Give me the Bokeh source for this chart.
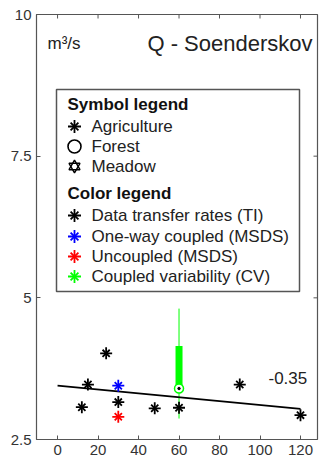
from bokeh.plotting import figure
from bokeh.models import LinearAxis, FixedTicker, Range1d
from bokeh.core.properties import value
from bokeh.embed import file_html
from bokeh.resources import INLINE

# ---- data -------------------------------------------------------------
# Data transfer rates (TI), agriculture
ti_x = [12, 15, 24, 30, 48, 60, 90, 120]
ti_y = [3.07, 3.47, 4.02, 3.16, 3.05, 3.06, 3.47, 2.93]
# One-way coupled (MSDS)
oneway_x = [30]
oneway_y = [3.45]
# Uncoupled (MSDS)
uncoupled_x = [30]
uncoupled_y = [2.90]
# Coupled variability (CV): whisker range, box range, centre value
cv_x = [60]
cv_low = [2.87]
cv_q1 = [3.40]
cv_q3 = [4.15]
cv_high = [4.81]
cv_mid = [3.40]
# Trend line through the TI values and its label
trend_x = [0, 120]
trend_y = [3.45, 3.04]
trend_label = "-0.35"

x_ticks = [0, 20, 40, 60, 80, 100, 120]
y_ticks = [2.5, 5, 7.5, 10]
y_tick_labels = {2.5: "2.5", 5: "5", 7.5: "7.5", 10: "10"}

title_text = "Q - Soenderskov"
unit_text = "m\u00b3/s"
symbol_head = "Symbol legend"
symbol_labels = ["Agriculture", "Forest", "Meadow"]
color_head = "Color legend"
color_labels = ["Data transfer rates (TI)", "One-way coupled (MSDS)",
                "Uncoupled (MSDS)", "Coupled variability (CV)"]
color_values = ["#000000", "#0000ff", "#ff0000", "#00ff00"]

# ---- layout -----------------------------------------------------------
W, H = 320, 464
FL, FR, FT, FB = 36, 317, 14, 439
X0, X1 = -10.4, 128.4
Y0, Y1 = 2.5, 10.0
TICK_PX = 4
FONT = "Liberation Sans"
FRAME_COLOR = "#555555"


def sx(px):
    return X0 + (px - FL) * (X1 - X0) / (FR - FL)


def sy(py):
    return Y1 - (py - FT) * (Y1 - Y0) / (FB - FT)


p = figure(width=W, height=H, output_backend="svg", toolbar_location=None,
           x_range=Range1d(X0, X1), y_range=Range1d(Y0, Y1),
           x_axis_location=None, y_axis_location=None,
           min_border_left=FL, min_border_right=W - FR,
           min_border_top=FT, min_border_bottom=H - FB)
p.grid.visible = False
p.outline_line_color = FRAME_COLOR
p.outline_line_width = 1.2
p.background_fill_color = "white"
p.border_fill_color = "white"


def make_axis(ticks, overrides=None):
    ax = LinearAxis(ticker=FixedTicker(ticks=ticks))
    ax.major_tick_in = TICK_PX
    ax.major_tick_out = 0
    ax.minor_tick_line_color = None
    ax.axis_line_color = None
    ax.major_tick_line_color = FRAME_COLOR
    ax.major_tick_line_width = 1
    ax.major_label_text_font = FONT
    ax.major_label_text_color = "#333333"
    ax.major_label_text_font_size = "15px"
    ax.major_label_standoff = 5
    if overrides:
        ax.major_label_overrides = overrides
    return ax


p.add_layout(make_axis(x_ticks), "below")
p.add_layout(make_axis(y_ticks, y_tick_labels), "left")

# inward ticks along the top and right edges of the box
dy_tick = TICK_PX * (Y1 - Y0) / (FB - FT)
dx_tick = TICK_PX * (X1 - X0) / (FR - FL)
p.segment(x_ticks, [Y1] * len(x_ticks), x_ticks, [Y1 - dy_tick] * len(x_ticks),
          line_color=FRAME_COLOR, line_width=1)
p.segment([X1] * len(y_ticks), y_ticks, [X1 - dx_tick] * len(y_ticks), y_ticks,
          line_color=FRAME_COLOR, line_width=1)


def star(xs, ys, color, size=12, lw=1.8):
    p.scatter(xs, ys, marker="cross", size=size, line_color=color, line_width=lw)
    p.scatter(xs, ys, marker="x", size=size * 0.85, line_color=color, line_width=lw)


# ---- plot marks -------------------------------------------------------
# CV whisker and box
p.segment(cv_x, cv_low, cv_x, cv_high, line_color="#00ff00", line_width=1)
p.segment(cv_x, cv_q1, cv_x, cv_q3, line_color="#00ff00", line_width=7,
          line_cap="butt")

p.line(trend_x, trend_y, line_color="black", line_width=1.6)

star(ti_x, ti_y, "#000000")
star(oneway_x, oneway_y, "#0000ff")
star(uncoupled_x, uncoupled_y, "#ff0000")

p.scatter(cv_x, cv_mid, marker="circle", size=9, line_color="#00ff00",
          fill_color="white", line_width=1.5)
p.scatter(cv_x, cv_mid, marker="circle", size=2.5, line_color="black",
          fill_color="black")

p.text([sx(268)], [sy(377)], text=[trend_label], text_font=value(FONT),
       text_font_size="17px", text_baseline="middle", text_color="#222222")

# ---- titles -----------------------------------------------------------
p.text([sx(312)], [sy(43)], text=[title_text], text_font=value(FONT),
       text_font_size="22px", text_align="right", text_baseline="middle",
       text_color="#222222")
p.text([sx(47)], [sy(43)], text=[unit_text], text_font=value(FONT),
       text_font_size="17px", text_baseline="middle", text_color="#222222")

# ---- legend box -------------------------------------------------------
p.quad(left=[sx(56)], right=[sx(299)], top=[sy(89)], bottom=[sy(291)],
       fill_color="white", line_color=FRAME_COLOR, line_width=1.5)

head_px = [104, 193]
p.text([sx(67)] * 2, [sy(v) for v in head_px], text=[symbol_head, color_head],
       text_font=value(FONT), text_font_size="17px", text_font_style="bold",
       text_baseline="middle", text_color="#111111")

sym_py = [126, 146, 166]
col_py = [215, 236, 256, 276]
mk_x = sx(74)
tx_x = sx(91)

p.text([tx_x] * 3, [sy(v) for v in sym_py], text=symbol_labels,
       text_font=value(FONT), text_font_size="17px", text_baseline="middle",
       text_color="#222222")
p.text([tx_x] * 4, [sy(v) for v in col_py], text=color_labels,
       text_font=value(FONT), text_font_size="17px", text_baseline="middle",
       text_color="#222222")

star([mk_x], [sy(sym_py[0])], "#000000", size=13)
p.scatter([mk_x], [sy(sym_py[1])], marker="circle", size=13,
          line_color="black", fill_color=None, line_width=1.6)
p.scatter([mk_x], [sy(sym_py[2])], marker="triangle", size=11,
          line_color="black", fill_color=None, line_width=1.4)
p.scatter([mk_x], [sy(sym_py[2])], marker="inverted_triangle", size=11,
          line_color="black", fill_color=None, line_width=1.4)
for py, c in zip(col_py, color_values):
    star([mk_x], [sy(py)], c, size=13)

open("out.html", "w").write(file_html(p, INLINE))
